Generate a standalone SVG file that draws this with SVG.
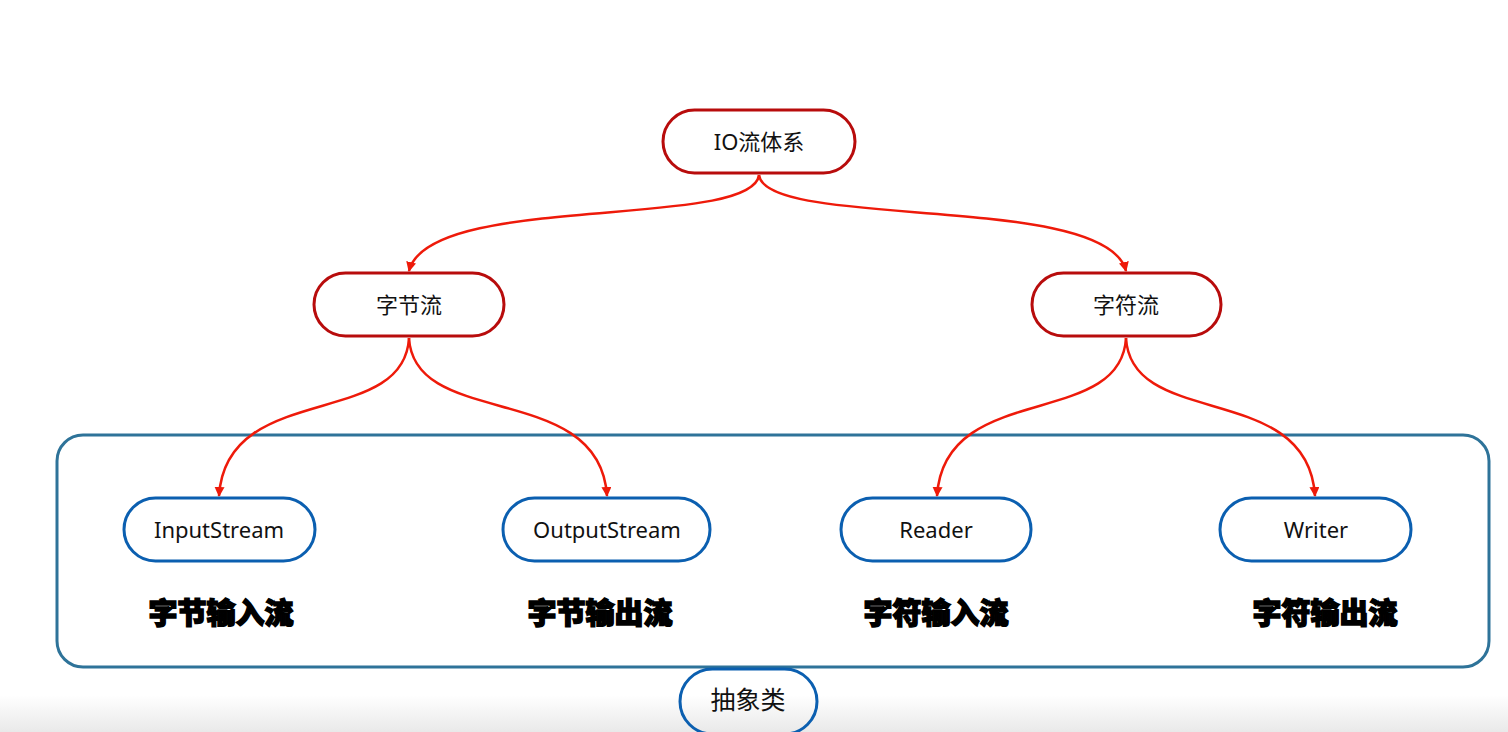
<svg xmlns="http://www.w3.org/2000/svg" width="1508" height="732" viewBox="0 0 1508 732">
<style>
.red{fill:#ffffff;stroke:#b80c0c;stroke-width:3}
.blue{fill:#ffffff;stroke:#0b5fb0;stroke-width:3}
.t{font-family:"Noto Sans","Noto Sans CJK SC",sans-serif;font-size:22px;fill:#111;text-anchor:middle;dominant-baseline:central}
.b{font-family:"Noto Sans CJK SC",sans-serif;font-weight:900;font-size:29px;fill:#000;text-anchor:middle;dominant-baseline:central;stroke:#000;stroke-width:1.5}
.c{fill:none;stroke:#ee1a0a;stroke-width:2.5;marker-end:url(#ah)}
</style>
<defs>
<marker id="ah" viewBox="0 0 10 10" refX="9" refY="5" markerWidth="4" markerHeight="4" orient="auto" markerUnits="strokeWidth">
<path d="M0,0 L10,5 L0,10 z" fill="#ee1a0a"/>
</marker>
<linearGradient id="bg" x1="0" y1="0" x2="0" y2="1">
<stop offset="0" stop-color="#ffffff"/>
<stop offset="1" stop-color="#e9e9e9"/>
</linearGradient>
</defs>
<rect x="0" y="0" width="1508" height="732" fill="#ffffff"/>
<rect x="0" y="695" width="1508" height="37" fill="url(#bg)"/>
<g id="container">
<rect x="57" y="435" width="1432" height="232" rx="26" fill="none" stroke="#2e7399" stroke-width="3"/>
</g>
<g id="connectors">
<path class="c" d="M759,175 C 752,230 428,192 409,271"/>
<path class="c" d="M759,175 C 766,230 1107,192 1126,271"/>
<path class="c" d="M409,338 C 404,430 226,380 219,496"/>
<path class="c" d="M409,338 C 414,430 600,380 607,496"/>
<path class="c" d="M1126,338 C 1121,430 944,380 937,496"/>
<path class="c" d="M1126,338 C 1131,430 1308,380 1315,496"/>
</g>
<g id="io"><rect class="red" x="663" y="110" width="192" height="63" rx="31.5"/><text class="t" x="759" y="141">IO流体系</text></g>
<g id="byte"><rect class="red" x="314" y="273" width="190" height="63" rx="31.5"/><text class="t" x="409" y="304">字节流</text></g>
<g id="char"><rect class="red" x="1032" y="273" width="189" height="63" rx="31.5"/><text class="t" x="1126" y="304">字符流</text></g>
<g id="inputstream"><rect class="blue" x="124" y="498" width="191" height="63" rx="31.5"/><text class="t" x="219" y="529">InputStream</text></g>
<g id="outputstream"><rect class="blue" x="503" y="498" width="207" height="63" rx="31.5"/><text class="t" x="607" y="529">OutputStream</text></g>
<g id="reader"><rect class="blue" x="841" y="498" width="190" height="63" rx="31.5"/><text class="t" x="936" y="529">Reader</text></g>
<g id="writer"><rect class="blue" x="1220" y="498" width="191" height="63" rx="31.5"/><text class="t" x="1316" y="529">Writer</text></g>
<g id="labels">
<text class="b" x="221" y="611">字节输入流</text>
<text class="b" x="600" y="611">字节输出流</text>
<text class="b" x="936" y="611">字符输入流</text>
<text class="b" x="1325" y="611">字符输出流</text>
</g>
<g id="abstract"><rect x="680" y="669" width="137" height="65" rx="32.5" fill="none" stroke="#0b5fb0" stroke-width="3"/><text class="t" x="748" y="699" style="font-size:25px">抽象类</text></g>
</svg>
